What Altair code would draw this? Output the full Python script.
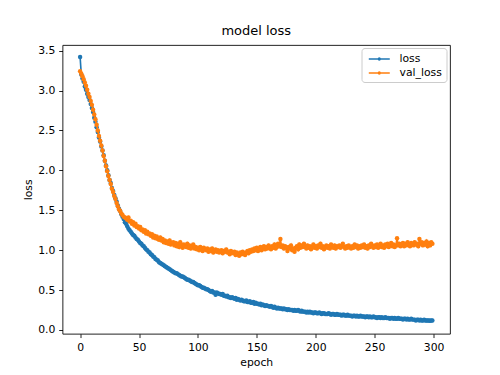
import altair as alt
import pandas as pd

epochs = list(range(300))

loss = [
    3.42, 3.20, 3.15, 3.11, 3.05, 3.01, 2.96, 2.92, 2.88, 2.83,
    2.78, 2.73, 2.66, 2.61, 2.54, 2.48, 2.41, 2.36, 2.30, 2.25,
    2.19, 2.12, 2.06, 2.00, 1.94, 1.88, 1.84, 1.78, 1.74, 1.69,
    1.65, 1.61, 1.56, 1.52, 1.49, 1.45, 1.42, 1.39, 1.35, 1.33,
    1.30, 1.27, 1.25, 1.23, 1.21, 1.19, 1.18, 1.16, 1.14, 1.13,
    1.11, 1.09, 1.08, 1.06, 1.05, 1.03, 1.01, 1.00, 0.98, 0.97,
    0.95, 0.94, 0.92, 0.91, 0.89, 0.88, 0.87, 0.85, 0.84, 0.83,
    0.82, 0.81, 0.80, 0.79, 0.78, 0.77, 0.76, 0.75, 0.74, 0.73,
    0.72, 0.71, 0.71, 0.70, 0.69, 0.68, 0.67, 0.67, 0.66, 0.65,
    0.64, 0.63, 0.63, 0.62, 0.61, 0.60, 0.60, 0.59, 0.58, 0.57,
    0.56, 0.56, 0.55, 0.54, 0.53, 0.53, 0.52, 0.51, 0.51, 0.50,
    0.49, 0.48, 0.49, 0.47, 0.47, 0.44, 0.47, 0.46, 0.45, 0.45,
    0.44, 0.45, 0.43, 0.43, 0.42, 0.43, 0.41, 0.41, 0.40, 0.41,
    0.40, 0.39, 0.40, 0.38, 0.39, 0.38, 0.37, 0.38, 0.37, 0.36,
    0.36, 0.37, 0.35, 0.35, 0.36, 0.34, 0.34, 0.35, 0.33, 0.34,
    0.33, 0.33, 0.32, 0.33, 0.31, 0.32, 0.31, 0.30, 0.31, 0.30,
    0.30, 0.29, 0.30, 0.29, 0.28, 0.29, 0.28, 0.27, 0.28, 0.27,
    0.27, 0.27, 0.26, 0.27, 0.26, 0.26, 0.25, 0.26, 0.25, 0.25,
    0.25, 0.24, 0.25, 0.24, 0.24, 0.25, 0.24, 0.23, 0.24, 0.23,
    0.23, 0.23, 0.22, 0.23, 0.22, 0.23, 0.22, 0.22, 0.21, 0.22,
    0.22, 0.21, 0.21, 0.22, 0.21, 0.20, 0.21, 0.21, 0.20, 0.20,
    0.20, 0.21, 0.20, 0.19, 0.20, 0.20, 0.19, 0.19, 0.20, 0.19,
    0.19, 0.19, 0.18, 0.19, 0.19, 0.18, 0.18, 0.19, 0.18, 0.18,
    0.18, 0.17, 0.18, 0.18, 0.17, 0.18, 0.17, 0.17, 0.18, 0.17,
    0.17, 0.17, 0.16, 0.17, 0.17, 0.16, 0.17, 0.16, 0.16, 0.17,
    0.16, 0.16, 0.15, 0.16, 0.16, 0.15, 0.16, 0.15, 0.15, 0.16,
    0.15, 0.15, 0.15, 0.14, 0.15, 0.15, 0.14, 0.15, 0.14, 0.14,
    0.15, 0.14, 0.14, 0.14, 0.13, 0.14, 0.14, 0.13, 0.14, 0.13,
    0.13, 0.14, 0.13, 0.13, 0.13, 0.12, 0.13, 0.13, 0.12, 0.13,
    0.12, 0.12, 0.13, 0.12, 0.12, 0.12, 0.12, 0.117, 0.12, 0.12,
]

val_loss = [
    3.24, 3.21, 3.18, 3.14, 3.10, 3.06, 3.01, 2.96, 2.92, 2.87,
    2.82, 2.76, 2.70, 2.64, 2.57, 2.50, 2.43, 2.37, 2.31, 2.25,
    2.18, 2.12, 2.05, 1.99, 1.93, 1.88, 1.83, 1.77, 1.73, 1.68,
    1.64, 1.59, 1.55, 1.51, 1.49, 1.46, 1.44, 1.42, 1.41, 1.40,
    1.38, 1.41, 1.36, 1.37, 1.33, 1.35, 1.31, 1.33, 1.29, 1.30,
    1.27, 1.29, 1.25, 1.26, 1.23, 1.25, 1.21, 1.23, 1.20, 1.21,
    1.18, 1.20, 1.16, 1.18, 1.15, 1.17, 1.14, 1.13, 1.16, 1.12,
    1.14, 1.10, 1.12, 1.09, 1.11, 1.08, 1.12, 1.07, 1.09, 1.10,
    1.06, 1.09, 1.05, 1.08, 1.04, 1.10, 1.06, 1.03, 1.07, 1.05,
    1.04, 1.08, 1.03, 1.06, 1.02, 1.05, 1.07, 1.02, 1.04, 1.01,
    1.03, 1.00, 1.04, 1.02, 0.99, 1.03, 1.01, 1.00, 1.02, 0.98,
    1.01, 0.99, 1.02, 0.97, 1.00, 1.01, 0.98, 1.00, 0.97, 0.99,
    1.00, 0.96, 0.99, 0.98, 1.01, 0.97, 0.98, 0.95, 0.99, 0.97,
    0.96, 0.98, 0.94, 0.97, 0.95, 0.93, 0.97, 0.95, 0.98, 0.96,
    0.94, 0.97, 0.99, 0.96, 1.00, 0.98, 1.01, 0.99, 1.02, 1.00,
    1.03, 0.99, 1.02, 1.04, 1.00, 1.03, 1.05, 1.01, 1.04, 1.02,
    1.06, 1.03, 1.01, 1.05, 1.03, 1.07, 1.02, 1.04, 1.08, 1.05,
    1.14, 1.04, 1.06, 1.02, 1.05, 1.03, 0.99, 1.04, 1.02, 1.06,
    1.00, 1.02, 0.98, 1.03, 1.05, 1.01, 1.07, 1.03, 1.06, 1.04,
    1.08, 1.04, 1.02, 1.06, 1.03, 1.05, 1.01, 1.04, 1.07, 1.03,
    1.05, 1.02, 1.06, 1.04, 1.08, 1.03, 1.05, 1.01, 1.04, 1.06,
    1.03, 1.05, 1.02, 1.07, 1.04, 1.03, 1.06, 1.02, 1.05, 1.04,
    1.06, 1.03, 1.05, 1.08, 1.04, 1.02, 1.05, 1.03, 1.06, 1.04,
    1.02, 1.05, 1.03, 1.07, 1.04, 1.06, 1.02, 1.05, 1.03, 1.06,
    1.04, 1.07, 1.03, 1.05, 1.02, 1.06, 1.04, 1.08, 1.05, 1.03,
    1.06, 1.04, 1.07, 1.03, 1.05, 1.08, 1.04, 1.06, 1.03, 1.07,
    1.05, 1.08, 1.04, 1.06, 1.09, 1.05, 1.07, 1.04, 1.06, 1.15,
    1.06, 1.08, 1.05, 1.07, 1.09, 1.05, 1.08, 1.06, 1.10, 1.07,
    1.05, 1.09, 1.07, 1.06, 1.10, 1.07, 1.08, 1.05, 1.14, 1.08,
    1.10, 1.06, 1.09, 1.07, 1.11, 1.05, 1.09, 1.06, 1.10, 1.08,
]

series_names = ["loss", "val_loss"]
series_colors = ["#1f77b4", "#ff7f0e"]
x_ticks = [0, 50, 100, 150, 200, 250, 300]
y_ticks = [0.0, 0.5, 1.0, 1.5, 2.0, 2.5, 3.0, 3.5]

assert len(loss) == 300 and len(val_loss) == 300

df = pd.DataFrame({
    "epoch": epochs * 2,
    "value": loss + val_loss,
    "series": [series_names[0]] * 300 + [series_names[1]] * 300,
})

FONT = "DejaVu Sans"

legend_path = ("M-0.62,0L2.88,0"
               "M0.99,0A0.14,0.14 0 1,1 1.27,0A0.14,0.14 0 1,1 0.99,0")

color = alt.Color(
    "series:N",
    scale=alt.Scale(domain=series_names, range=series_colors),
    legend=alt.Legend(
        title=None, orient="none", legendX=299, legendY=3,
        symbolType=legend_path, symbolSize=144, symbolStrokeWidth=1.6,
        labelFontSize=10.8, labelFont=FONT, labelColor="black",
        labelOffset=20, padding=4, rowPadding=2,
        fillColor="white", strokeColor="#cccccc", cornerRadius=3,
    ),
)

axis_style = dict(
    grid=False, domain=False,
    tickColor="black", tickWidth=0.87, tickSize=3.8,
    labelFont=FONT, labelFontSize=10.8, labelColor="black", labelPadding=3.8,
    titleFont=FONT, titleFontSize=10.8, titleFontWeight="normal", titleColor="black",
    titlePadding=4,
)

x = alt.X("epoch:Q", scale=alt.Scale(domain=[-14.95, 313.95], nice=False, zero=False),
          axis=alt.Axis(values=x_ticks, title="epoch", format="d", **axis_style))
y = alt.Y("value:Q", scale=alt.Scale(domain=[-0.047, 3.57], nice=False, zero=False),
          axis=alt.Axis(values=y_ticks, title="loss", format=".1f", **axis_style))

layers = []
for name in series_names:
    base = alt.Chart(df).transform_filter(alt.datum.series == name)
    layers.append(base.mark_line(strokeWidth=1.63).encode(x=x, y=y, color=color))
    layers.append(base.mark_point(filled=True, size=20, opacity=1).encode(x=x, y=y, color=color))

chart = alt.layer(*layers).properties(
    width=387.5, height=288.75,
    background="white",
    title=alt.TitleParams("model loss", fontSize=13, font=FONT, fontWeight="normal",
                          offset=6.5, anchor="middle", color="black"),
    autosize=alt.AutoSizeParams(type="none"),
    padding={"left": 54.5, "top": 37, "right": 42, "bottom": 40},
).configure_view(
    stroke="black", strokeWidth=0.87
)

chart.save("out.html", embed_options={"renderer": "svg", "actions": False})
